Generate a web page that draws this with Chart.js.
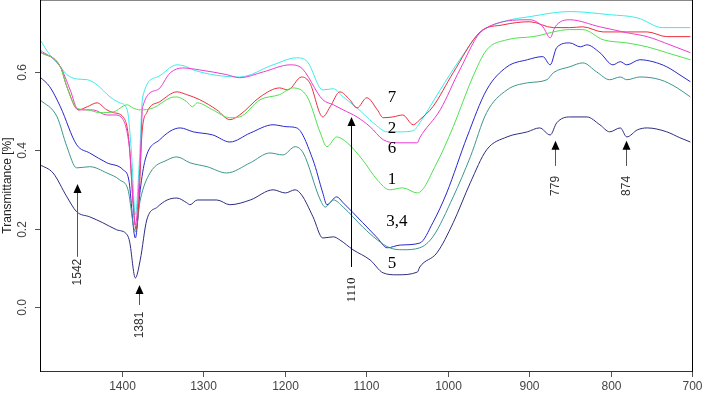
<!DOCTYPE html>
<html>
<head>
<meta charset="utf-8">
<script src="https://cdn.jsdelivr.net/npm/chart.js@4.4.0/dist/chart.umd.min.js"></script>
<style>
  html, body { margin: 0; padding: 0; background: #fff; }
  #wrap { width: 702px; height: 393px; }
</style>
</head>
<body>
<div id="wrap"><canvas id="irChart" width="702" height="393"></canvas></div>
<script>
// wavenumbers (cm-1) and transmittance, one pair per sample
const wn7 = [1500,1475,1467,1453,1442,1430,1418,1410,1398,1391,1386,1382,1378,1375,1369,1353,1332,1320,1304,1283,1267,1255,1230,1206,1196,1179,1169,1153,1144,1132,1120,1111,1099,1086,1079,1067,1055,1042,1034,1018,993,960,932,899,870,850,834,809,780,755,731,702];
const t7 = [0.651,0.613,0.562,0.503,0.511,0.521,0.503,0.496,0.485,0.427,0.273,0.197,0.299,0.439,0.496,0.524,0.549,0.542,0.529,0.503,0.478,0.490,0.536,0.559,0.554,0.587,0.572,0.485,0.511,0.549,0.529,0.508,0.534,0.503,0.483,0.485,0.490,0.465,0.478,0.511,0.598,0.702,0.720,0.728,0.713,0.713,0.715,0.702,0.702,0.702,0.690,0.690];

const wn2 = [1500,1488,1475,1467,1455,1442,1430,1414,1402,1393,1388,1383,1378,1374,1356,1332,1320,1312,1255,1214,1185,1172,1153,1140,1128,1111,1091,1074,1058,1042,1034,1009,985,960,932,899,850,801,767,736,702];
const t2 = [0.682,0.644,0.613,0.593,0.582,0.580,0.567,0.536,0.521,0.503,0.401,0.235,0.375,0.536,0.587,0.618,0.613,0.605,0.587,0.618,0.636,0.626,0.554,0.557,0.536,0.508,0.470,0.447,0.447,0.450,0.470,0.554,0.631,0.700,0.728,0.741,0.754,0.746,0.738,0.713,0.713];

const wn6 = [1500,1475,1463,1453,1435,1418,1408,1398,1390,1383,1377,1374,1356,1340,1325,1304,1271,1255,1226,1193,1181,1153,1140,1128,1111,1095,1079,1062,1037,1034,1009,985,956,899,883,874,868,850,813,780,755,727,702];
const t6 = [0.656,0.613,0.554,0.503,0.503,0.490,0.490,0.478,0.401,0.209,0.375,0.511,0.554,0.598,0.610,0.605,0.593,0.585,0.600,0.618,0.613,0.529,0.516,0.503,0.485,0.460,0.427,0.419,0.419,0.432,0.503,0.605,0.708,0.733,0.715,0.687,0.715,0.733,0.715,0.700,0.690,0.669,0.649];

const wn1 = [1500,1475,1467,1455,1442,1426,1410,1393,1386,1377,1361,1340,1332,1320,1313,1307,1288,1267,1255,1230,1206,1190,1172,1156,1148,1136,1123,1104,1086,1071,1055,1037,1013,993,969,952,927,895,850,834,809,780,755,731,702];
const t1 = [0.651,0.613,0.562,0.508,0.503,0.496,0.498,0.516,0.508,0.503,0.508,0.534,0.536,0.524,0.511,0.521,0.503,0.483,0.485,0.529,0.542,0.559,0.536,0.444,0.409,0.434,0.419,0.375,0.324,0.299,0.304,0.291,0.368,0.460,0.587,0.656,0.682,0.690,0.708,0.708,0.682,0.674,0.664,0.649,0.631];

const wn3 = [1500,1488,1475,1455,1439,1418,1398,1391,1383,1377,1371,1353,1328,1312,1288,1267,1242,1214,1197,1185,1165,1153,1148,1136,1128,1104,1086,1074,1058,1034,1018,1001,976,952,927,902,883,874,866,850,837,829,813,797,788,780,764,748,731,711,702];
const t3 = [0.587,0.562,0.511,0.414,0.393,0.368,0.350,0.324,0.176,0.299,0.375,0.427,0.457,0.447,0.439,0.421,0.444,0.465,0.460,0.457,0.375,0.291,0.261,0.281,0.266,0.215,0.176,0.151,0.158,0.163,0.215,0.291,0.434,0.554,0.613,0.631,0.639,0.618,0.662,0.674,0.664,0.669,0.649,0.618,0.626,0.618,0.631,0.626,0.613,0.587,0.575];

const wn4 = [1500,1479,1467,1455,1439,1418,1402,1392,1383,1377,1365,1344,1332,1316,1295,1271,1242,1218,1202,1187,1177,1156,1150,1140,1128,1104,1086,1071,1055,1034,1018,993,972,952,927,902,878,870,850,834,817,801,788,780,764,739,718,702];
const t4 = [0.529,0.485,0.409,0.355,0.358,0.342,0.324,0.299,0.192,0.273,0.342,0.375,0.383,0.368,0.358,0.342,0.368,0.393,0.388,0.409,0.393,0.273,0.255,0.273,0.255,0.204,0.171,0.151,0.146,0.151,0.179,0.281,0.383,0.496,0.554,0.572,0.580,0.598,0.613,0.623,0.600,0.580,0.587,0.580,0.587,0.580,0.559,0.536];

const wn5 = [1500,1484,1467,1455,1439,1423,1406,1393,1390,1383,1377,1369,1356,1344,1332,1320,1316,1307,1283,1267,1242,1214,1199,1187,1179,1165,1153,1140,1132,1116,1095,1079,1062,1037,1034,1013,993,972,952,927,902,887,874,866,850,829,813,801,788,780,767,755,731,715,702];
const t5 = [0.363,0.342,0.281,0.243,0.230,0.215,0.197,0.184,0.166,0.074,0.120,0.222,0.255,0.273,0.278,0.266,0.261,0.273,0.273,0.261,0.273,0.299,0.291,0.299,0.286,0.230,0.176,0.179,0.171,0.146,0.120,0.087,0.082,0.089,0.102,0.138,0.215,0.317,0.401,0.434,0.447,0.457,0.439,0.470,0.485,0.485,0.465,0.447,0.457,0.434,0.452,0.457,0.447,0.432,0.421];

// axis ticks
const xTicks = [1400, 1300, 1200, 1100, 1000, 900, 800, 700];
const yTicks = [0.0, 0.2, 0.4, 0.6];

// curve numbers written next to the spectra
const curveLabels = ['7', '2', '6', '1', '3,4', '5'];
const curveLabelX = [1068, 1068, 1068, 1068, 1062, 1068];
const curveLabelY = [0.534, 0.455, 0.404, 0.324, 0.217, 0.112];

// band markers (arrows)
const bandText = ['1542', '1381', '1110', '779', '874'];
const bandX = [1454, 1379, 1118, 868, 781];
const bandTop = [0.314, 0.056, 0.485, 0.424, 0.424];
const bandBottom = [0.128, 0.005, 0.102, 0.360, 0.360];
const bandLabelY = [0.089, -0.046, 0.043, 0.309, 0.309];

function pts(wn, t) {
    return wn.map((w, i) => ({ x: w, y: t[i] }));
}

function serie(label, wn, t, color) {
    return {
        label: label,
        data: pts(wn, t),
        borderColor: color,
        borderWidth: 1,
        pointRadius: 0,
        fill: false,
        cubicInterpolationMode: 'monotone'
    };
}

// draws the frame, the R-style rotated labels and the arrows
const decorations = {
    id: 'decorations',
    afterDraw(chart) {
        const ctx = chart.ctx;
        const a = chart.chartArea;
        const xs = chart.scales.x;
        const ys = chart.scales.y;
        ctx.save();

        // box
        ctx.lineWidth = 1;
        ctx.strokeStyle = '#888';
        ctx.beginPath(); ctx.moveTo(a.left, 0.5); ctx.lineTo(a.right, 0.5); ctx.stroke();
        ctx.strokeStyle = '#333';
        ctx.beginPath(); ctx.moveTo(a.left, a.bottom + 0.5); ctx.lineTo(a.right, a.bottom + 0.5); ctx.stroke();
        ctx.strokeStyle = '#000';
        ctx.beginPath(); ctx.moveTo(a.left + 0.5, 0); ctx.lineTo(a.left + 0.5, a.bottom + 1); ctx.stroke();
        ctx.beginPath(); ctx.moveTo(a.right + 0.5, 0); ctx.lineTo(a.right + 0.5, a.bottom + 1); ctx.stroke();

        // x ticks
        ctx.strokeStyle = '#555';
        ctx.fillStyle = '#444';
        ctx.font = '12px "Liberation Sans", Arial, sans-serif';
        ctx.textAlign = 'center';
        ctx.textBaseline = 'middle';
        xTicks.forEach(v => {
            const px = Math.round(xs.getPixelForValue(v)) + 0.5;
            ctx.beginPath(); ctx.moveTo(px, a.bottom + 1); ctx.lineTo(px, a.bottom + 6); ctx.stroke();
            ctx.fillText(String(v), px, a.bottom + 16);
        });

        // y ticks, labels turned like R does
        yTicks.forEach(v => {
            const py = Math.round(ys.getPixelForValue(v)) + 0.5;
            ctx.beginPath(); ctx.moveTo(a.left - 5, py); ctx.lineTo(a.left, py); ctx.stroke();
            ctx.save();
            ctx.translate(a.left - 17, py);
            ctx.rotate(-Math.PI / 2);
            ctx.fillText(v.toFixed(1), 0, 0);
            ctx.restore();
        });

        // y title
        ctx.save();
        ctx.fillStyle = '#222';
        ctx.translate(8, (a.top + a.bottom) / 2);
        ctx.rotate(-Math.PI / 2);
        ctx.fillText('Transmittance [%]', 0, 0);
        ctx.restore();

        // curve numbers
        ctx.fillStyle = '#000';
        ctx.font = '17px "Liberation Serif", "Times New Roman", serif';
        curveLabels.forEach((txt, i) => {
            ctx.fillText(txt, xs.getPixelForValue(curveLabelX[i]), ys.getPixelForValue(curveLabelY[i]));
        });

        // arrows
        bandText.forEach((txt, i) => {
            const px = Math.round(xs.getPixelForValue(bandX[i])) + 0.5;
            const top = ys.getPixelForValue(bandTop[i]);
            const bottom = ys.getPixelForValue(bandBottom[i]);
            const serif = txt === '1110';
            ctx.strokeStyle = serif ? '#000' : '#555';
            ctx.beginPath(); ctx.moveTo(px, top + 6); ctx.lineTo(px, bottom); ctx.stroke();
            ctx.fillStyle = '#000';
            ctx.beginPath();
            ctx.moveTo(px, top);
            ctx.lineTo(px - 4, top + 9);
            ctx.lineTo(px + 4, top + 9);
            ctx.closePath();
            ctx.fill();
            ctx.save();
            ctx.fillStyle = serif ? '#000' : '#333';
            ctx.font = serif ? '13px "Liberation Serif", serif' : '12px "Liberation Sans", Arial, sans-serif';
            ctx.translate(px, ys.getPixelForValue(bandLabelY[i]));
            ctx.rotate(-Math.PI / 2);
            ctx.fillText(txt, 0, 0);
            ctx.restore();
        });

        ctx.restore();
    }
};

const ctx = document.getElementById('irChart');
new Chart(ctx, {
    type: 'line',
    data: {
        datasets: [
            serie('1', wn1, t1, 'rgb(80,225,80)'),
            serie('6', wn6, t6, 'rgb(235,60,205)'),
            serie('7', wn7, t7, 'rgb(235,45,60)'),
            serie('2', wn2, t2, 'rgb(60,235,235)'),
            serie('4', wn4, t4, 'rgb(60,150,140)'),
            serie('3', wn3, t3, 'rgb(40,40,205)'),
            serie('5', wn5, t5, 'rgb(45,45,130)')
        ]
    },
    options: {
        responsive: false,
        animation: false,
        devicePixelRatio: 1,
        layout: {
            padding: { left: 40, right: 10, top: 0, bottom: 22 }
        },
        plugins: {
            legend: { display: false },
            tooltip: { enabled: false }
        },
        scales: {
            x: {
                type: 'linear',
                reverse: true,
                min: 700,
                max: 1500,
                display: false
            },
            y: {
                type: 'linear',
                min: -0.1635,
                max: 0.7835,
                display: false
            }
        }
    },
    plugins: [decorations]
});
</script>
</body>
</html>
